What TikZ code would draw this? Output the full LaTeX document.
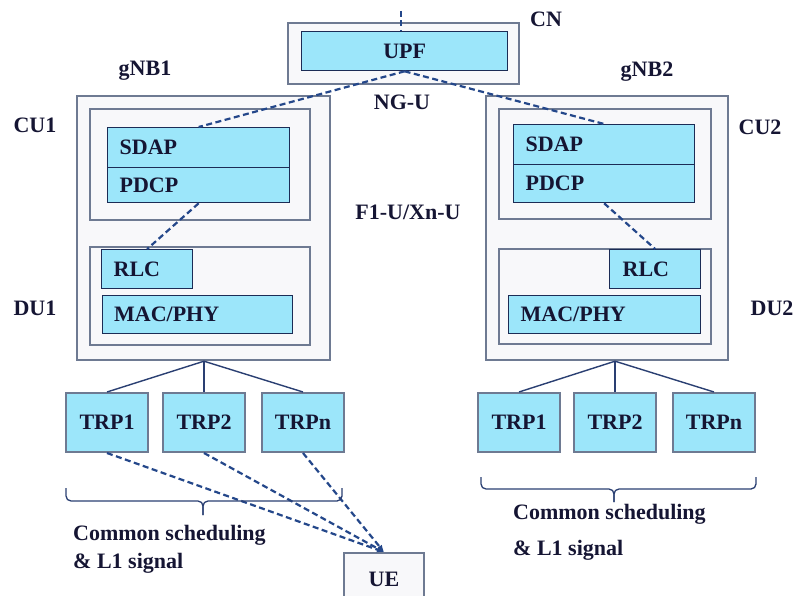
\documentclass[tikz,border=0pt]{standalone}
\usepackage{fontspec}
\setmainfont{Liberation Serif}
\usetikzlibrary{arrows.meta}
\definecolor{boxline}{HTML}{6E7A92}
\definecolor{boxfill}{HTML}{F8F8FA}
\definecolor{layerfill}{HTML}{9CE6FA}
\definecolor{layerline}{HTML}{1C2C55}
\definecolor{linkblue}{HTML}{24478A}
\definecolor{treeline}{HTML}{2A3F72}
\definecolor{labeltext}{HTML}{151533}
\tikzset{
  every node/.style={font=\bfseries\fontsize{22}{26}\selectfont, text=labeltext},
  frame/.style={draw=boxline, line width=2.2pt, fill=boxfill, rectangle, anchor=north west, inner sep=0pt},
  layer/.style={draw=layerline, line width=1.3pt, fill=layerfill, rectangle, anchor=north west, inner sep=0pt},
  leftlayer/.style={layer, align=left, inner xsep=12pt},
  trpbox/.style={draw=boxline, line width=2pt, fill=layerfill, rectangle, anchor=north west,
    minimum width=82pt, minimum height=59pt, inner sep=0pt},
  uebox/.style={draw=boxline, line width=2pt, fill=boxfill, rectangle, anchor=north west,
    minimum width=80pt, minimum height=52pt, inner sep=0pt},
  tunnel/.style={draw=linkblue, line width=2.2pt, dash pattern=on 6pt off 3.5pt},
  radio/.style={tunnel, -{Latex[length=7pt,width=6pt]}},
  branch/.style={draw=treeline, line width=1.4pt},
  brc/.style={draw=treeline, line width=1.3pt, rounded corners=5pt},
  caption/.style={anchor=west, inner sep=0pt},
}
\begin{document}
\begin{tikzpicture}[x=1pt, y=-1pt]
\useasboundingbox[fill=white] (0,0) rectangle (795,596);

% core network
\node[frame, minimum width=231pt, minimum height=61pt] (cn) at (287,22) {};
\node[layer, minimum width=206pt, minimum height=39pt] (upf) at (301,31) {UPF};
\coordinate (cntop) at (401,11);
\node (cnlabel) at (546,19) {CN};
\node (ngu) at (402,102) {NG-U};
\node (f1u) at (408,212) {F1-U/Xn-U};

% gNB1
\node[frame, minimum width=253pt, minimum height=264pt] (gnb1) at (76,95) {};
\node[frame, minimum width=220pt, minimum height=111pt] (cu1) at (89,108) {};
\node[frame, minimum width=220pt, minimum height=98pt] (du1) at (89,246) {};
\node[leftlayer, minimum width=182pt, minimum height=40pt, text width=158pt] (sdap1) at (107,127) {SDAP};
\node[leftlayer, minimum width=182pt, minimum height=35pt, text width=158pt] (pdcp1) at (107,167) {PDCP};
\node[leftlayer, minimum width=91pt, minimum height=39pt, text width=67pt] (rlc1) at (101,249) {RLC};
\node[leftlayer, minimum width=190pt, minimum height=38pt, text width=167pt, inner xsep=11.5pt] (mac1) at (102,295) {MAC/PHY};
\node (gnb1label) at (145,71) {gNB1};
\node (cu1label) at (35,125) {CU1};
\node (du1label) at (35,308) {DU1};

% gNB2
\node[frame, minimum width=242pt, minimum height=264pt] (gnb2) at (485,95) {};
\node[frame, minimum width=212pt, minimum height=110pt] (cu2) at (498,108) {};
\node[frame, minimum width=212pt, minimum height=95pt] (du2) at (498,248) {};
\node[leftlayer, minimum width=181pt, minimum height=40pt, text width=157pt] (sdap2) at (513,124) {SDAP};
\node[leftlayer, minimum width=181pt, minimum height=38pt, text width=157pt] (pdcp2) at (513,164) {PDCP};
\node[leftlayer, minimum width=91pt, minimum height=39pt, text width=65pt, inner xsep=13pt] (rlc2) at (609,249) {RLC};
\node[leftlayer, minimum width=192pt, minimum height=38pt, text width=168pt] (mac2) at (508,295) {MAC/PHY};
\node (gnb2label) at (647,72) {gNB2};
\node (cu2label) at (760,127) {CU2};
\node (du2label) at (772,308) {DU2};

% transmission/reception points
\node[trpbox] (trp11) at (65,392) {TRP1};
\node[trpbox] (trp12) at (162,392) {TRP2};
\node[trpbox] (trp1n) at (261,392) {TRPn};
\node[trpbox] (trp21) at (477,392) {TRP1};
\node[trpbox] (trp22) at (573,392) {TRP2};
\node[trpbox] (trp2n) at (672,392) {TRPn};

% user equipment
\node[uebox] (ue) at (343,552) {UE};

% user-plane tunnels
\draw[tunnel] (cntop) -- (cntop |- upf.north);
\draw[tunnel] (upf.south) -- (sdap1.north);
\draw[tunnel] (upf.south) -- (sdap2.north);
\draw[tunnel] (pdcp1.south) -- (rlc1.north);
\draw[tunnel] (pdcp2.south) -- (rlc2.north);

% fronthaul tree
\coordinate (root1) at (gnb1.south -| trp12.north);
\coordinate (root2) at (gnb2.south -| trp22.north);
\foreach \t in {trp11,trp12,trp1n} \draw[branch] (root1) -- (\t.north);
\foreach \t in {trp21,trp22,trp2n} \draw[branch] (root2) -- (\t.north);

% radio links to the UE
\foreach \t in {trp11,trp12,trp1n} \draw[radio] (\t.south) -- (ue.north);

% braces
\coordinate (b1l) at (66,488);
\coordinate (b1r) at (342,488);
\coordinate (b1m) at (203,501);
\coordinate (b1t) at (203,515);
\draw[brc] (b1l) |- (b1m) -- (b1t);
\draw[brc] (b1r) |- (b1m) -- (b1t);
\coordinate (b2l) at (481,477);
\coordinate (b2r) at (756,477);
\coordinate (b2m) at (614,489);
\coordinate (b2t) at (614,502);
\draw[brc] (b2l) |- (b2m) -- (b2t);
\draw[brc] (b2r) |- (b2m) -- (b2t);

\node[caption] (sched1a) at (73,535) {Common scheduling};
\node[caption] (sched1b) at (73,563) {\& L1 signal};
\node[caption] (sched2a) at (513,514) {Common scheduling};
\node[caption] (sched2b) at (513,550) {\& L1 signal};
\end{tikzpicture}
\end{document}
